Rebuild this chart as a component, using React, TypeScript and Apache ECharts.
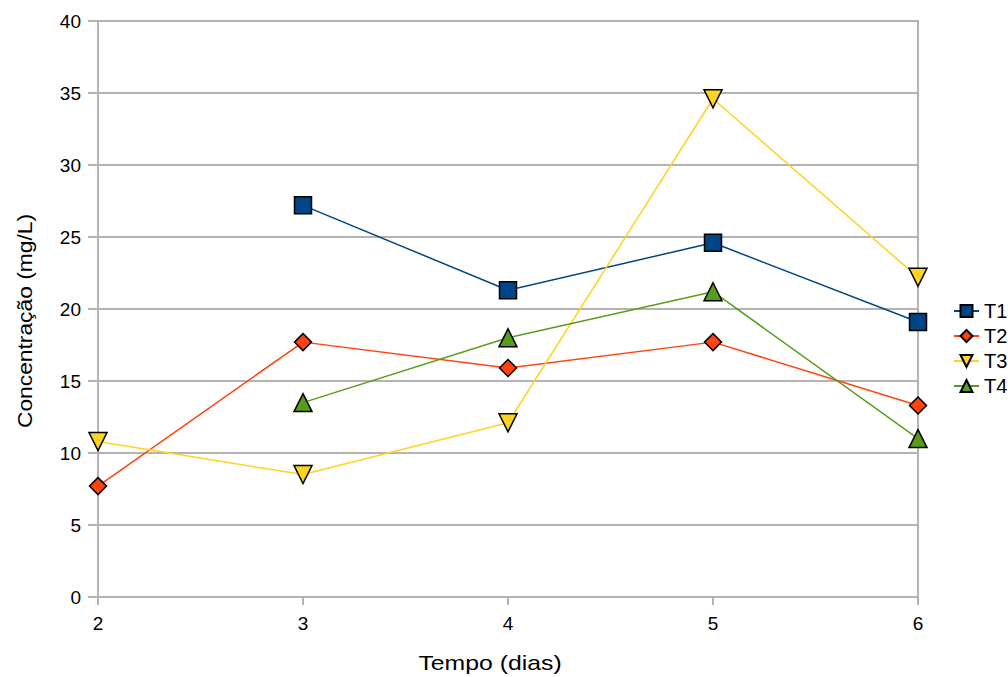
import React, { useEffect, useRef } from "react";
import * as echarts from "echarts";

const xDays = [2, 3, 4, 5, 6];
const t1: (number | null)[] = [null, 27.2, 21.3, 24.6, 19.1];
const t2: (number | null)[] = [7.7, 17.7, 15.9, 17.7, 13.3];
const t3: (number | null)[] = [10.8, 8.5, 12.1, 34.6, 22.2];
const t4: (number | null)[] = [null, 13.5, 18.0, 21.2, 11.0];
const seriesNames = ["T1", "T2", "T3", "T4"];
const yTicks = [0, 5, 10, 15, 20, 25, 30, 35, 40];

const FONT = "'Liberation Sans', Arial, sans-serif";
const GRID = "#b3b3b3";

export default function App() {
  const ref = useRef<HTMLDivElement>(null);
  useEffect(() => {
    if (!ref.current) return;
    const chart = echarts.init(ref.current, undefined, { renderer: "svg" });
    const pairs = (vals: (number | null)[]) =>
      xDays.map((x, i) => [x, vals[i]]).filter((p) => p[1] !== null);
    const mk = (
      name: string,
      vals: (number | null)[],
      color: string,
      symbol: string,
      size: number
    ) => ({
      name,
      type: "line",
      data: pairs(vals),
      symbol,
      symbolSize: size,
      showAllSymbol: true,
      lineStyle: { color, width: 1.5 },
      itemStyle: { color, borderColor: "#000", borderWidth: 1.5 },
      emphasis: { disabled: true },
    });
    const tri = "path://M0,0 L10,0 L5,9 Z";
    chart.setOption({
      animation: false,
      backgroundColor: "#fff",
      grid: {
        left: 98,
        right: 90,
        top: 21,
        bottom: 80,
        show: true,
        borderColor: GRID,
        borderWidth: 2,
        backgroundColor: "transparent",
      },
      legend: {
        orient: "vertical",
        left: 948,
        top: 296,
        itemWidth: 25,
        itemHeight: 15,
        itemGap: 5,
        data: seriesNames,
        textStyle: { fontFamily: FONT, fontSize: 20, color: "#000" },
      },
      xAxis: {
        type: "value",
        min: 2,
        max: 6,
        interval: 1,
        axisLine: { show: true, lineStyle: { color: GRID, width: 2 } },
        axisTick: { show: true, length: 8, lineStyle: { color: GRID, width: 2 } },
        splitLine: { show: false },
        axisLabel: { margin: 17, fontFamily: FONT, fontSize: 19, color: "#000" },
      },
      yAxis: {
        type: "value",
        min: yTicks[0],
        max: yTicks[yTicks.length - 1],
        interval: 5,
        axisLine: { show: true, lineStyle: { color: GRID, width: 2 } },
        axisTick: { show: true, length: 10, lineStyle: { color: GRID, width: 2 } },
        splitLine: { show: true, lineStyle: { color: GRID, width: 2 } },
        axisLabel: { margin: 17, fontFamily: FONT, fontSize: 19, color: "#000" },
      },
      graphic: [
        {
          type: "text",
          x: 490,
          y: 663,
          scaleX: 1.24,
          style: {
            text: "Tempo (dias)",
            fontFamily: FONT,
            fontSize: 20,
            fill: "#000",
            align: "center",
            verticalAlign: "middle",
          },
        },
        {
          type: "text",
          x: 25,
          y: 321,
          rotation: Math.PI / 2,
          scaleX: 1.14,
          style: {
            text: "Concentração (mg/L)",
            fontFamily: FONT,
            fontSize: 20,
            fill: "#000",
            align: "center",
            verticalAlign: "middle",
          },
        },
      ],
      series: [
        mk("T1", t1, "#004586", "rect", 17),
        mk("T2", t2, "#ff420e", "diamond", 17),
        mk("T3", t3, "#ffd320", tri, 18),
        mk("T4", t4, "#579d1c", "triangle", 18),
      ],
    });
    return () => chart.dispose();
  }, []);
  return (
    <div
      ref={ref}
      style={{ position: "fixed", left: 0, top: 0, width: 1008, height: 677 }}
    />
  );
}
